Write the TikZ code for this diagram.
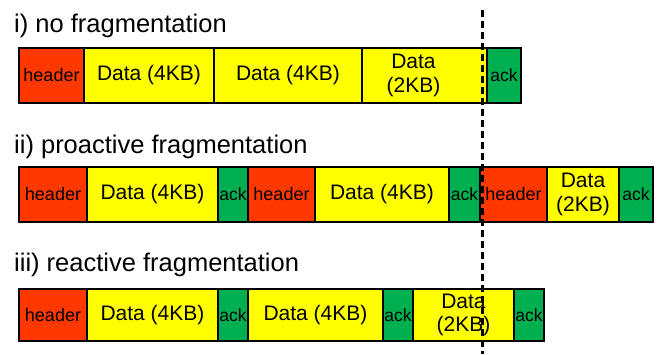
\documentclass[tikz,border=0pt]{standalone}
\usepackage{fontspec}
\setmainfont{Liberation Sans}
\begin{document}
\begin{tikzpicture}[x=1pt,y=-1pt,
  box/.style={draw=black, line width=2pt, inner sep=0pt, anchor=north west, minimum height=#1},
  hdr/.style={box=55pt, fill=hdrred, font=\fontsize{18}{20}\selectfont},
  dat/.style={box=55pt, fill=datyellow, font=\fontsize{21}{23.5}\selectfont, align=center},
  ack/.style={box=55pt, fill=ackgreen, font=\fontsize{17.5}{20}\selectfont},
  ttl/.style={anchor=base west, inner sep=0pt, font=\fontsize{25.5}{28}\selectfont},
  cut/.style={line width=3.3pt, dash pattern=on 7pt off 4pt}]
\definecolor{hdrred}{RGB}{255,56,0}
\definecolor{datyellow}{RGB}{255,255,0}
\definecolor{ackgreen}{RGB}{0,176,80}
\useasboundingbox (0,0) rectangle (657,354);

% row i
\node[ttl] (t1) at (14,32) {i) no fragmentation};
\node[hdr, minimum width=65pt] (a1) at (18,47) {header};
\node[dat, minimum width=130pt] (a2) at (83,47) {Data (4KB)};
\node[dat, minimum width=148pt] (a3) at (213,47) {Data (4KB)};
\node[dat, minimum width=125pt] (a4) at (361,47) {};
\node[font=\fontsize{21}{23.5}\selectfont, align=center, inner sep=0pt] (a4t) at ([xshift=-11pt]a4.center) {Data\\(2KB)};
\node[ack, minimum width=34pt] (a5) at (486,47) {ack};

% row ii
\node[ttl] (t2) at (14,153) {ii) proactive fragmentation};
\node[hdr, minimum width=68pt] (b1) at (18,166) {header};
\node[dat, minimum width=131pt] (b2) at (86,166) {Data (4KB)};
\node[ack, minimum width=30pt] (b3) at (217,166) {ack};
\node[hdr, minimum width=67pt] (b4) at (247,166) {header};
\node[dat, minimum width=134pt] (b5) at (314,166) {Data (4KB)};
\node[ack, minimum width=31pt] (b6) at (448,166) {ack};
\node[hdr, minimum width=67pt] (b7) at (479,166) {header};
\node[dat, minimum width=72pt] (b8) at (546,166) {Data\\(2KB)};
\node[ack, minimum width=34pt] (b9) at (618,166) {ack};

% row iii
\node[ttl] (t3) at (14,271) {iii) reactive fragmentation};
\node[hdr, minimum width=68pt, minimum height=52pt] (c1) at (18,288) {header};
\node[dat, minimum width=131pt, minimum height=52pt] (c2) at (86,288) {Data (4KB)};
\node[ack, minimum width=30pt, minimum height=52pt] (c3) at (217,288) {ack};
\node[dat, minimum width=135pt, minimum height=52pt] (c4) at (247,288) {Data (4KB)};
\node[ack, minimum width=30pt, minimum height=52pt] (c5) at (382,288) {ack};
\node[dat, minimum width=101pt, minimum height=52pt] (c6) at (412,288) {Data\\(2KB)};
\node[ack, minimum width=30pt, minimum height=52pt] (c7) at (513,288) {ack};

% cut line
\coordinate (top) at (482.7,10);
\coordinate (bot) at (482.7,354);
\draw[cut] (top) -- (bot);
\end{tikzpicture}
\end{document}
